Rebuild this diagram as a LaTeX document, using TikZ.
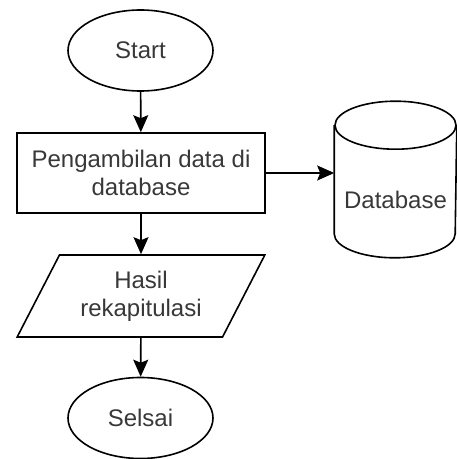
\documentclass[tikz,border=0pt]{standalone}
\usepackage{fontspec}
\setmainfont{Liberation Sans}
\usetikzlibrary{arrows.meta,positioning,shapes.geometric,calc}

\tikzset{
  terminal/.style={draw,ellipse,minimum width=145pt,minimum height=81pt,inner sep=0pt},
  process/.style={draw,rectangle,minimum width=248pt,minimum height=80pt,inner sep=0pt},
  io/.style={draw,trapezium,trapezium left angle=58,trapezium right angle=122,trapezium stretches=true,minimum width=248pt,minimum height=82pt,inner sep=0pt},
  storebox/.style={rectangle,minimum width=121pt,minimum height=155pt,inner sep=0pt},
  flow/.style={-{Stealth[length=17pt,width=15pt,inset=3pt]}}
}

\begin{document}
\begin{tikzpicture}[x=1pt, y=1pt, align=center, every path/.style={line width=1.6pt},
  every node/.style={text=black!78}, font=\fontsize{24}{28}\selectfont]
\useasboundingbox (0,0) rectangle (457,459);

\node (start) [terminal] at (140.5,408.5) {Start};
\node (fetch) [process] at (141,286) {Pengambilan data di\\database};

% database drum
\node (db) [storebox] at (395.5,279.5) {};
\draw ($(db.north west)+(0,-24)$) -- ($(db.south west)+(0,24)$)
  arc[start angle=180, end angle=360, x radius=60.5, y radius=24]
  -- ($(db.north east)+(0,-24)$);
\draw ($(db.north)+(0,-24)$) ellipse[x radius=60.5, y radius=24];
\node (dblabel) at ($(db.center)+(0,-20)$) {Database};

\draw[flow] (start) -- (fetch);
\draw[flow] (fetch.east) -- (fetch.east -| db.west);

% -------------------------------

\node (result) [io] at (141,163) {Hasil\\rekapitulasi};
\node (finish) [terminal] at (140.5,41) {Selsai};

\draw[flow] (fetch) -- (result);
\draw[flow] (result) -- (finish);
\end{tikzpicture}
\end{document}
